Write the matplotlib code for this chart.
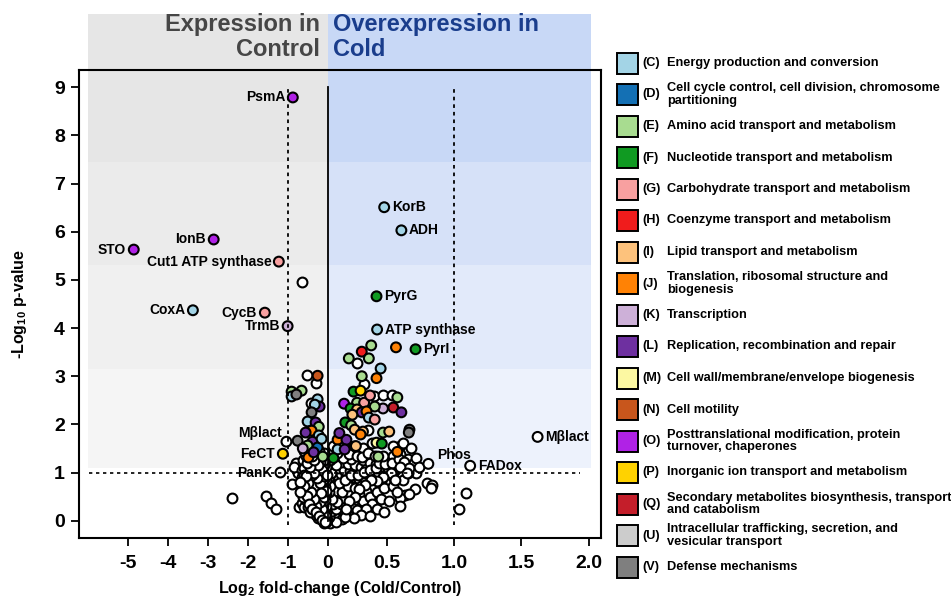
import numpy as np
import matplotlib
matplotlib.use("Agg")
import matplotlib.pyplot as plt
from matplotlib.patches import Rectangle

plt.rcParams["font.family"] = ["Liberation Sans", "DejaVu Sans"]
plt.rcParams["font.weight"] = "bold"
plt.rcParams["axes.labelweight"] = "bold"
plt.rcParams["mathtext.fontset"] = "custom"
plt.rcParams["mathtext.rm"] = "Liberation Sans:bold"
plt.rcParams["mathtext.default"] = "rm"

# COG functional categories (legend)
cog_codes = ["C", "D", "E", "F", "G", "H", "I", "J", "K", "L", "M", "N", "O", "P", "Q", "U", "V"]
cog_names = [
    "Energy production and conversion",
    "Cell cycle control, cell division, chromosome\npartitioning",
    "Amino acid transport and metabolism",
    "Nucleotide transport and metabolism",
    "Carbohydrate transport and metabolism",
    "Coenzyme transport and metabolism",
    "Lipid transport and metabolism",
    "Translation, ribosomal structure and\nbiogenesis",
    "Transcription",
    "Replication, recombination and repair",
    "Cell wall/membrane/envelope biogenesis",
    "Cell motility",
    "Posttranslational modification, protein\nturnover, chaperones",
    "Inorganic ion transport and metabolism",
    "Secondary metabolites biosynthesis, transport\nand catabolism",
    "Intracellular trafficking, secretion, and\nvesicular transport",
    "Defense mechanisms",
]
cog_colors = ["#a3d4e6", "#1470b4", "#a8dc90", "#109a22", "#f8a0a0", "#f01c1c",
              "#fdc27c", "#ff8205", "#cdb0d8", "#6e30a0", "#fcf8a2", "#c8561c",
              "#b022e6", "#ffd200", "#c41e2a", "#cccccc", "#7f7f7f"]

# labelled proteins: name, log2 fold-change, -log10 p, category ("" = none)
lab_names = ["PsmA", "IonB", "STO", "Cut1 ATP synthase", "CoxA", "CycB", "TrmB",
             "KorB", "ADH", "PyrG", "ATP synthase", "PyrI",
             "M\u03b2lact", "FeCT", "PanK", "Phos", "FADox", "M\u03b2lact"]
lab_x = [-0.87, -2.85, -4.85, -1.22, -3.37, -1.57, -1.0,
         0.48, 0.61, 0.415, 0.42, 0.715,
         -1.03, -1.12, -1.18, 0.81, 1.12, 1.62]
lab_y = [8.79, 5.84, 5.63, 5.38, 4.37, 4.32, 4.04,
         6.51, 6.03, 4.66, 3.97, 3.56,
         1.64, 1.39, 1.0, 1.18, 1.14, 1.74]
lab_cat = ["O", "O", "O", "G", "C", "G", "K",
           "C", "C", "F", "C", "F",
           "", "P", "", "", "", ""]

# other proteins with a COG assignment
col_x = [0.57, 0.37, 0.29, 0.18, 0.35, 0.45, 0.29, 0.415, 0.22, 0.28,
         0.58, 0.55, 0.61, 0.47, 0.40, 0.14, 0.25, 0.195, 0.31, 0.25,
         0.29, 0.33, 0.35, 0.40, 0.15, 0.20, 0.23, 0.30, 0.28, 0.47,
         0.52, 0.67, 0.665, 0.085, 0.16, 0.415, 0.46, 0.085, 0.145, 0.43,
         0.58, 0.36, 0.24, 0.10, 0.21, 0.05,
         -0.25, -0.90, -0.65, -0.90, -0.78, -0.25, -0.20, -0.32, -0.40, -0.50,
         -0.30, -0.22, -0.40, -0.55, -0.22, -0.75, -0.38, -0.50, -0.25, -0.62,
         -0.48, -0.12, -0.35, -0.15]
col_y = [3.60, 3.64, 3.51, 3.37, 3.37, 3.16, 3.00, 2.96, 2.68, 2.70,
         2.56, 2.35, 2.25, 2.33, 2.37, 2.43, 2.45, 2.33, 2.45, 2.31,
         2.25, 2.27, 2.14, 2.10, 2.04, 1.98, 1.89, 1.85, 1.79, 1.83,
         1.85, 1.89, 1.83, 1.68, 1.68, 1.62, 1.60, 1.48, 1.48, 1.33,
         1.43, 2.60, 1.55, 1.82, 2.20, 1.30,
         3.01, 2.68, 2.70, 2.58, 2.62, 2.52, 2.37, 2.41, 2.25, 2.06,
         2.04, 1.95, 1.87, 1.83, 1.77, 1.66, 1.64, 1.56, 1.52, 1.50,
         1.31, 1.33, 1.42, 1.70]
col_cat = ["J", "E", "H", "E", "E", "C", "E", "J", "F", "P",
           "E", "Q", "L", "K", "E", "O", "E", "F", "G", "I",
           "L", "J", "C", "G", "F", "E", "I", "I", "J", "E",
           "I", "V", "V", "J", "L", "M", "F", "C", "L", "E",
           "J", "G", "I", "L", "I", "F",
           "N", "E", "E", "C", "V", "C", "L", "C", "V", "C",
           "L", "E", "J", "L", "C", "V", "L", "E", "D", "K",
           "J", "E", "L", "C"]

# proteins without category (white)
white_x = [-0.65, -0.52, -0.30, -0.42, -0.75, -0.78, -0.90, -2.38, -1.55, -1.42,
           -1.28, -0.85, -0.72, -0.62, -0.65, -0.65, -0.40, -0.25, -0.58, -0.65,
           0.25, 0.31, 0.39, 0.47, 0.54, 0.34, 0.60, 0.69, 0.72, 0.80,
           0.84, 0.64, 0.71, 0.66, 0.83, 0.60, 0.67, 1.09, 1.04, 0.58,
           0.31, 0.50, 0.55, 0.05, 0.12, 0.22, 0.30, 0.38, 0.62, 0.68,
           # right arm of the volcano
           0.01, 0.03, 0.06, 0.02, 0.05, 0.09, 0.04, 0.08, 0.12, 0.02,
           0.06, 0.10, 0.15, 0.03, 0.08, 0.13, 0.18, 0.05, 0.10, 0.16,
           0.21, 0.03, 0.08, 0.13, 0.19, 0.24, 0.06, 0.11, 0.16, 0.22,
           0.27, 0.32, 0.04, 0.09, 0.14, 0.19, 0.25, 0.30, 0.35, 0.40,
           0.06, 0.12, 0.17, 0.23, 0.28, 0.33, 0.38, 0.43, 0.48, 0.10,
           0.20, 0.30, 0.36, 0.41, 0.46, 0.51, 0.56, 0.45, 0.52, 0.58,
           0.62, 0.66, 0.55, 0.60, 0.70, 0.50, 0.55, 0.45, 0.38, 0.33,
           0.27, 0.22, 0.20, 0.15, 0.25, 0.30, 0.36, 0.42, 0.48, 0.55,
           0.62, 0.58, 0.45, 0.38, 0.33, 0.28, 0.42, 0.52, 0.60, 0.48,
           0.36, 0.22, 0.12, 0.02, 0.07, 0.15,
           0.015, 0.035, 0.07, 0.11, 0.045, 0.09, 0.14, 0.19, 0.07, 0.12,
           0.17, 0.23, 0.28, 0.10, 0.15, 0.20, 0.26, 0.31, 0.36, 0.41,
           0.44, 0.49, 0.54, 0.59, 0.63, 0.67, 0.60, 0.53, 0.47, 0.42,
           0.37, 0.32, 0.27, 0.23, 0.18, 0.16, 0.08, 0.04, 0.01, 0.02,
           0.015, 0.03, 0.07, 0.13, 0.18, 0.25, 0.29, 0.34, 0.40, 0.47,
           0.02, 0.08, 0.05, 0.72, 0.74, 0.56, 0.65,
           # left arm of the volcano
           -0.02, -0.05, -0.10, -0.03, -0.08, -0.15, -0.04, -0.12, -0.20, -0.06,
           -0.15, -0.25, -0.03, -0.10, -0.20, -0.30, -0.06, -0.15, -0.25, -0.35,
           -0.03, -0.10, -0.20, -0.30, -0.40, -0.06, -0.15, -0.25, -0.35, -0.45,
           -0.03, -0.10, -0.20, -0.30, -0.40, -0.50, -0.08, -0.18, -0.28, -0.38,
           -0.48, -0.58, -0.15, -0.30, -0.45, -0.60, -0.55, -0.50, -0.45, -0.40,
           -0.35, -0.28, -0.60, -0.55, -0.50, -0.45, -0.05, -0.10,
           -0.07, -0.13, -0.18, -0.09, -0.24, -0.12, -0.32, -0.18, -0.08, -0.27,
           -0.40, -0.13, -0.35, -0.24, -0.44, -0.52, -0.33, -0.10, -0.22, -0.38,
           -0.04, -0.02, -0.16, -0.28, -0.35, -0.42, -0.48, -0.54, -0.58, -0.62,
           -0.52, -0.46, -0.38, -0.30, -0.22, -0.14, -0.06, -0.68, -0.70, -0.55,
           -0.60, -0.45]
white_y = [4.95, 3.03, 2.85, 2.45, 1.00, 1.20, 0.77, 0.48, 0.52, 0.37,
           0.25, 1.12, 0.29, 1.27, 0.90, 0.37, 0.17, 0.06, 0.29, 1.06,
           3.28, 2.83, 2.58, 2.62, 2.62, 1.89, 1.56, 1.06, 1.00, 0.79,
           0.75, 0.54, 0.66, 1.00, 0.67, 0.48, 0.56, 0.58, 0.24, 1.50,
           1.30, 1.27, 1.55, 1.45, 1.60, 1.55, 1.50, 1.62, 1.62, 1.50,
           0.00, 0.05, 0.02, 0.12, 0.18, 0.10, 0.28, 0.30, 0.22, 0.38,
           0.42, 0.45, 0.35, 0.52, 0.58, 0.55, 0.50, 0.68, 0.70, 0.66,
           0.62, 0.80, 0.84, 0.82, 0.78, 0.74, 0.95, 0.96, 0.92, 0.90,
           0.86, 0.82, 1.08, 1.10, 1.06, 1.04, 1.00, 0.98, 0.94, 0.90,
           1.20, 1.22, 1.18, 1.15, 1.12, 1.08, 1.05, 1.02, 0.98, 1.32,
           1.28, 1.25, 1.20, 1.17, 1.14, 1.10, 1.06, 1.28, 1.24, 1.20,
           1.15, 1.28, 1.35, 1.38, 1.20, 0.85, 0.90, 0.78, 0.72, 0.62,
           0.55, 0.42, 0.28, 0.15, 0.22, 0.40, 0.50, 0.60, 0.68, 0.72,
           0.85, 0.60, 0.45, 0.35, 0.25, 0.12, 0.25, 0.40, 0.30, 0.18,
           0.10, 0.05, 0.03, -0.04, -0.02, 0.07,
           0.08, 0.20, 0.25, 0.35, 0.35, 0.48, 0.48, 0.58, 0.62, 0.60,
           0.72, 0.68, 0.72, 0.78, 0.85, 0.95, 0.95, 1.02, 1.05, 1.10,
           1.20, 1.18, 1.20, 1.28, 1.22, 1.10, 1.12, 1.00, 0.90, 0.82,
           0.85, 0.75, 0.65, 0.50, 0.40, 0.25, 0.38, 0.45, 0.60, 0.72,
           0.90, 1.00, 1.15, 1.30, 1.38, 1.35, 1.32, 1.40, 1.35, 1.35,
           1.25, 1.40, 1.55, 1.30, 1.12, 0.85, 1.00,
           0.02, 0.08, 0.05, 0.15, 0.20, 0.12, 0.30, 0.32, 0.25, 0.42,
           0.45, 0.38, 0.55, 0.58, 0.55, 0.50, 0.70, 0.72, 0.68, 0.62,
           0.85, 0.86, 0.84, 0.80, 0.75, 1.00, 0.98, 0.95, 0.92, 0.88,
           1.12, 1.15, 1.10, 1.08, 1.05, 1.02, 1.25, 1.22, 1.20, 1.18,
           1.15, 1.10, 1.35, 1.30, 1.25, 0.60, 0.80, 0.65, 0.50, 0.35,
           0.22, 0.12, 0.95, 0.42, 0.28, 0.17, -0.03, -0.05,
           0.12, 0.25, 0.38, 0.50, 0.60, 0.65, 0.72, 0.78, 0.92, 0.88,
           0.95, 1.05, 1.00, 1.15, 1.12, 1.20, 1.25, 1.40, 1.45, 1.35,
           0.62, 0.95, 0.58, 0.30, 0.45, 0.60, 0.78, 0.92, 0.72, 0.50,
           0.52, 0.35, 0.25, 0.18, 0.10, 0.02, -0.02, 0.80, 0.60, 1.35,
           1.45, 1.45]

x_ticks = [-5, -4, -3, -2, -1, 0, 0.5, 1.0, 1.5, 2.0]
x_tick_labels = ["-5", "-4", "-3", "-2", "-1", "0", "0.5", "1.0", "1.5", "2.0"]
y_ticks = [0, 1, 2, 3, 4, 5, 6, 7, 8, 9]

# label placement (offset in points, horizontal alignment)
lab_place = [(-5.5, 0, "right"), (-6, 0, "right"), (-5.5, 0, "right"), (-5, 0, "right"),
             (-5.5, 0, "right"), (-5.5, 0, "right"), (-5.5, 0, "right"),
             (5.5, 0, "left"), (5.5, 0, "left"), (5.5, 0, "left"), (5.5, 0, "left"), (5.5, 0, "left"),
             (-3, 6.5, "right"), (-6, 0, "right"), (-5.5, 0, "right"), (6.5, 6.5, "left"),
             (5.5, 0, "left"), (5.5, 0, "left")]

# piecewise x axis: negative side compressed
kx = [-8.0, 0.0, 0.5, 3.0]
kp = [-320.0, 0.0, 59.0, 59.0 + 2.5 * 135.0]


def fwd(x):
    return np.interp(x, kx, kp)


def inv(p):
    return np.interp(p, kp, kx)


color_of = dict(zip(cog_codes, cog_colors))

fig = plt.figure(figsize=(9.51, 6.02), dpi=100)
ax = fig.add_axes([79 / 951, 1 - 538 / 602, (601 - 79) / 951, (538 - 70) / 602])
ax.patch.set_alpha(0)
ax.set_xscale("function", functions=(fwd, inv))
ax.set_xlim(-6.22, 2.09)
ax.set_ylim(-0.36, 9.36)

# background shading (extends above the frame)
band_edges = [10.52, 7.44, 5.32, 3.14, 1.10]
grey_cols = ["#e6e6e6", "#ebebeb", "#f0f0f0", "#f5f5f5"]
blue_cols = ["#c8d8f6", "#d6e1f8", "#e2eafa", "#edf2fc"]
for i in range(4):
    lo, hi = band_edges[i + 1], band_edges[i]
    ax.add_patch(Rectangle((-6.0, lo), 6.0, hi - lo, fc=grey_cols[i], ec="none",
                           zorder=0, clip_on=False))
    ax.add_patch(Rectangle((0.0, lo), 2.015, hi - lo, fc=blue_cols[i], ec="none",
                           zorder=0, clip_on=False))

mk = dict(s=50, edgecolors="black", linewidths=1.5)
ax.scatter(white_x, white_y, c="white", zorder=2, **mk)
ax.scatter(col_x, col_y, c=[color_of[c] for c in col_cat], zorder=3, **mk)
ax.scatter(lab_x, lab_y, c=[color_of[c] if c else "white" for c in lab_cat], zorder=3, **mk)

for name, x, y, (dx, dy, ha) in zip(lab_names, lab_x, lab_y, lab_place):
    ax.annotate(name, (x, y), xytext=(dx, dy), textcoords="offset points",
                ha=ha, va="center", fontsize=10, fontweight="bold", zorder=5)

dots = (0, (2.0, 2.2))
ax.axhline(1.0, xmin=0.02, xmax=0.96, color="black", lw=1.2, ls=dots, zorder=4)
ax.plot([-1, -1], [-0.1, 9.0], color="black", lw=1.3, ls=dots, zorder=4)
ax.plot([1, 1], [-0.1, 9.0], color="black", lw=1.3, ls=dots, zorder=4)
ax.plot([0, 0], [0.0, 9.0], color="black", lw=1.3, zorder=4)

ax.set_xticks(x_ticks)
ax.set_xticklabels(x_tick_labels)
ax.set_yticks(y_ticks)
ax.minorticks_off()
ax.tick_params(axis="both", direction="out", length=6, width=1.3, labelsize=14)
ax.tick_params(axis="x", pad=6)
ax.tick_params(axis="y", pad=4)
for s in ax.spines.values():
    s.set_linewidth(1.5)
    s.set_zorder(6)
ax.set_xlabel("Log$_2$ fold-change (Cold/Control)", fontsize=11.5, labelpad=5)
ax.set_ylabel("-Log$_{10}$ p-value", fontsize=11.5, labelpad=18)

# overlay in pixel units for the header and the legend
lax = fig.add_axes([0, 0, 1, 1])
lax.set_xlim(0, 951)
lax.set_ylim(602, 0)
lax.axis("off")
lax.text(320, 37, "Expression in\nControl", ha="right", va="center", fontsize=17,
         color="#464646", linespacing=1.15)
lax.text(333, 37, "Overexpression in\nCold", ha="left", va="center", fontsize=17,
         color="#1a3d8c", linespacing=1.15)

for i, (code, name) in enumerate(zip(cog_codes, cog_names)):
    yc = 63 + i * 31.5
    lax.add_patch(Rectangle((617, yc - 10.5), 21, 21, fc=cog_colors[i], ec="black", lw=1.4))
    lax.text(642, yc, f"({code})", ha="left", va="center", fontsize=9.2)
    lax.text(667, yc, name, ha="left", va="center", fontsize=9.2, linespacing=1.1)

fig.savefig("out.png", dpi=100)
